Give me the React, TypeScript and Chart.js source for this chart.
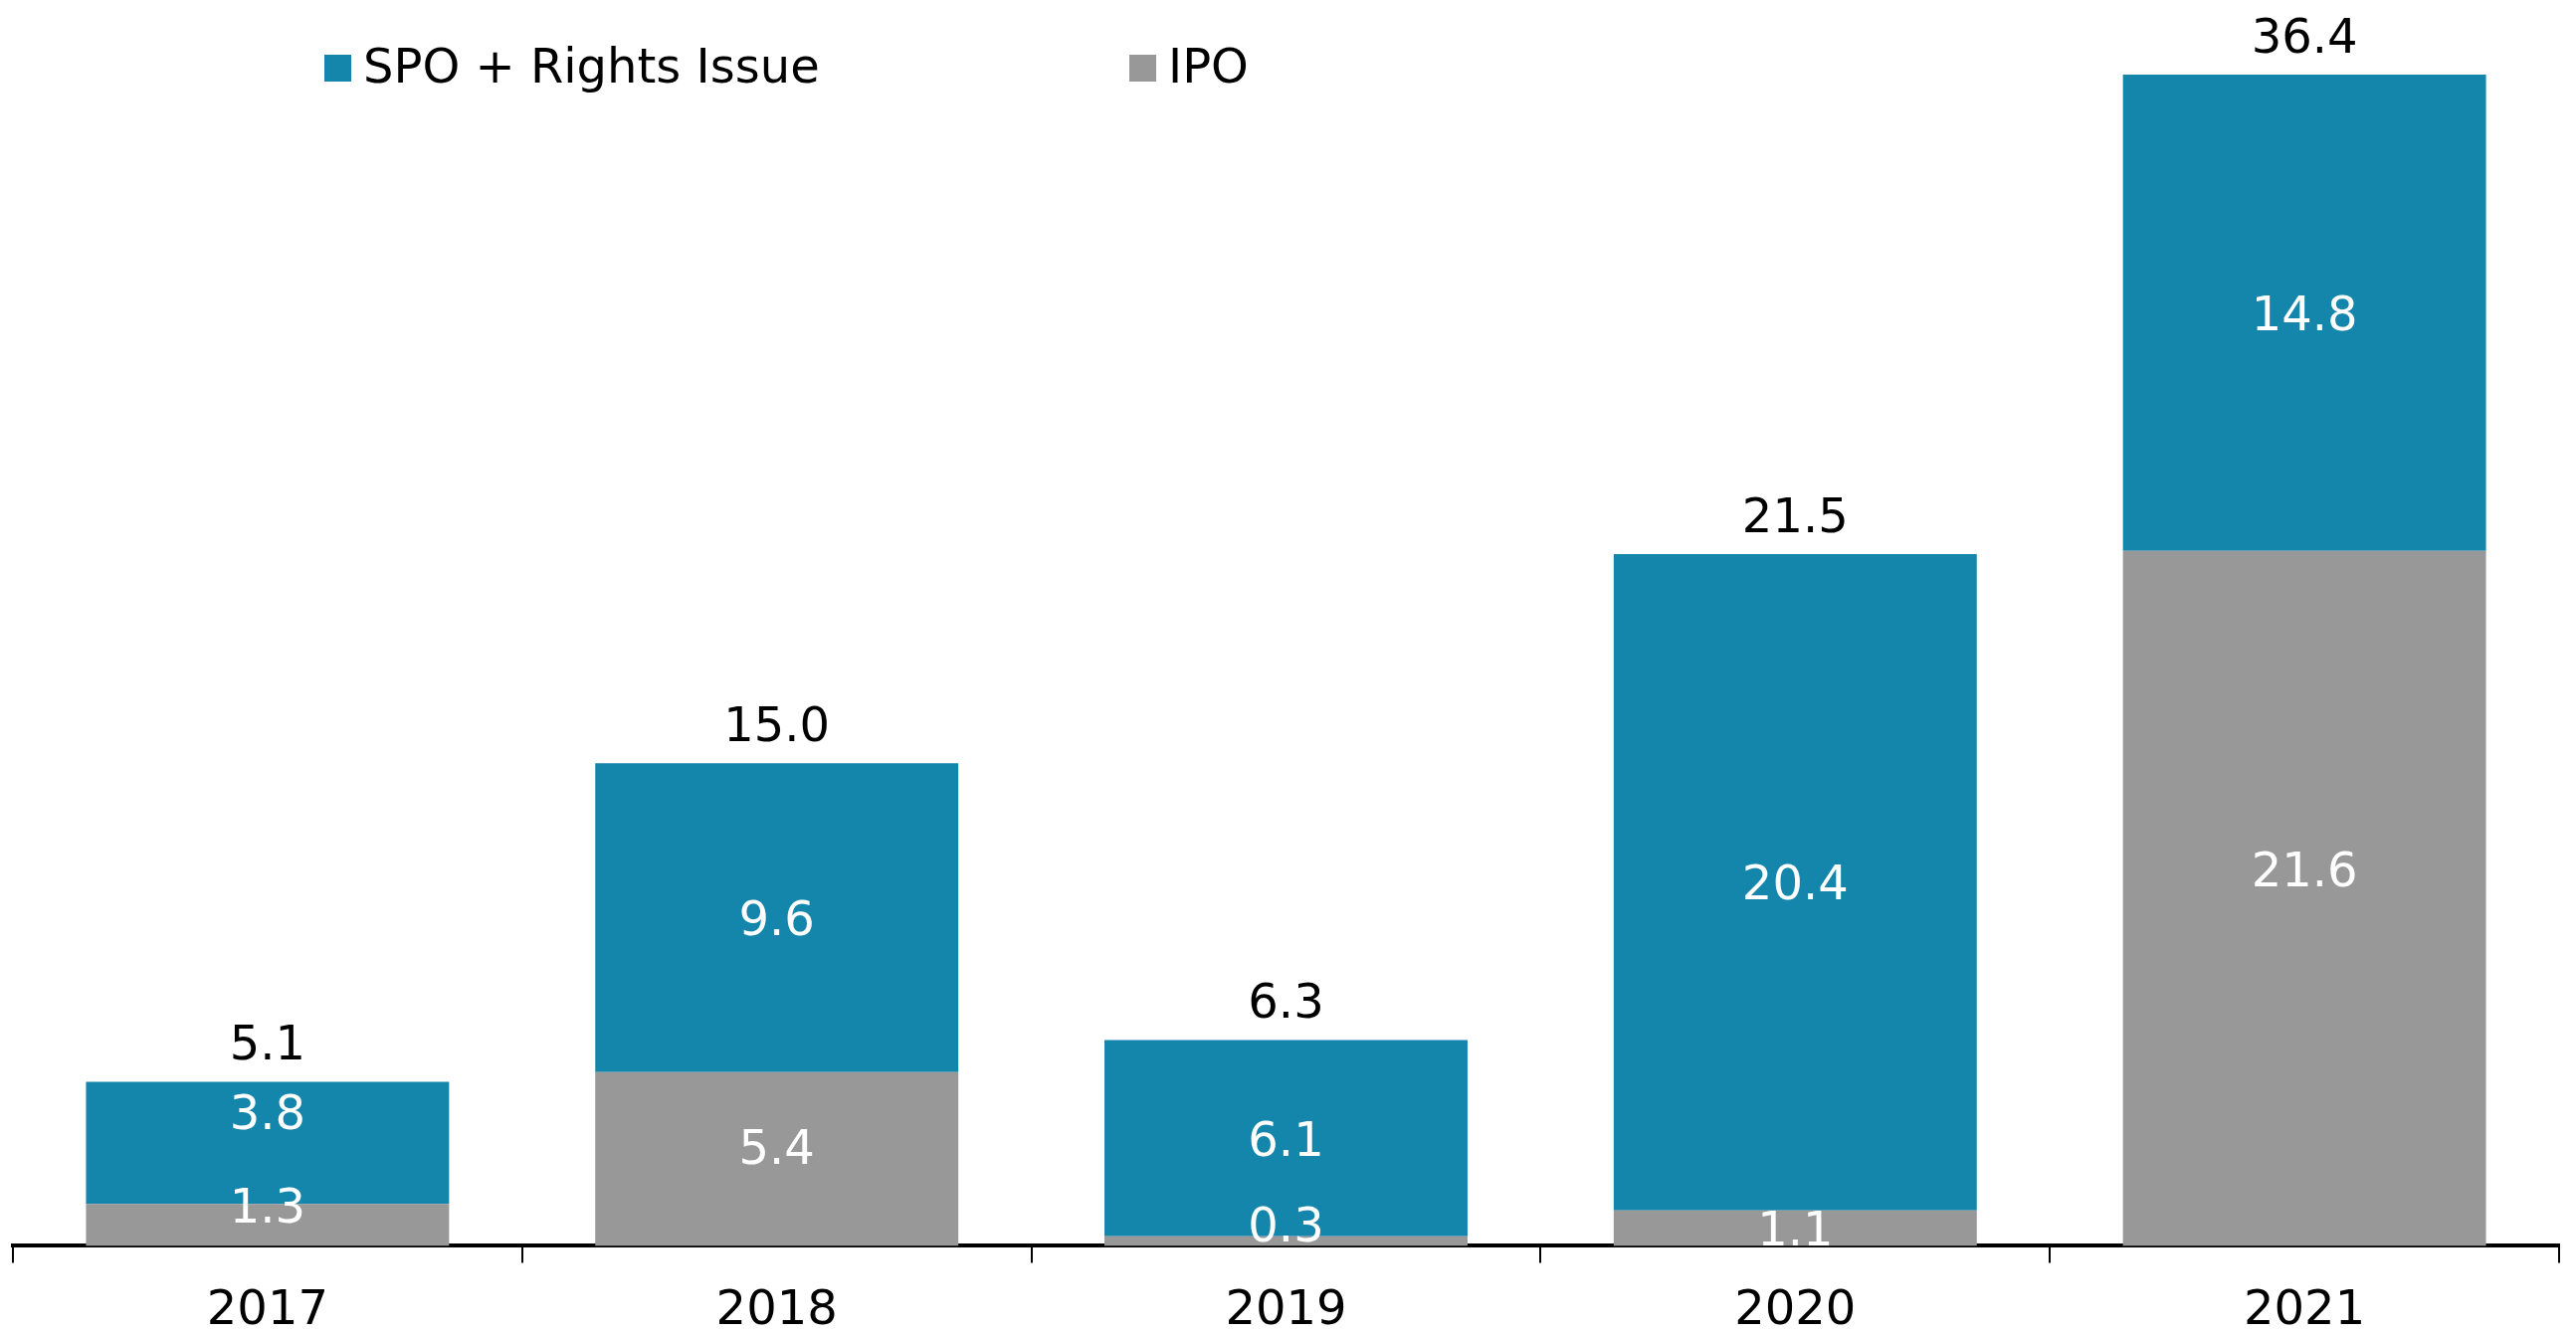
import React, { useEffect, useRef } from "react";
import { Chart, registerables } from "chart.js";

Chart.register(...registerables);

const categories = ["2017", "2018", "2019", "2020", "2021"];
const ipoValues = [1.3, 5.4, 0.3, 1.1, 21.6];
const spoValues = [3.8, 9.6, 6.1, 20.4, 14.8];
const totalLabels = ["5.1", "15.0", "6.3", "21.5", "36.4"];
const seriesNames = ["SPO + Rights Issue", "IPO"];

const TEAL = "#1485AB";
const GRAY = "#989898";
const FONT = "'DejaVu Sans', Verdana, sans-serif";
const FONT_SIZE = 48;

// small label nudges (px) where the original moved labels off-centre
const labelNudge: Record<string, number> = {
  "0-0": -20,
  "1-0": -31,
  "0-1": -13,
  "0-2": -17,
  "0-4": -30,
};

export default function App() {
  const ref = useRef<HTMLCanvasElement | null>(null);

  useEffect(() => {
    if (!ref.current) return;
    const labelPlugin = {
      id: "labels",
      afterDatasetsDraw(chart: any) {
        const ctx = chart.ctx;
        ctx.save();
        ctx.font = `${FONT_SIZE}px ${FONT}`;
        ctx.textAlign = "center";
        ctx.textBaseline = "alphabetic";
        const half = (FONT_SIZE * 0.729) / 2;
        chart.data.datasets.forEach((ds: any, di: number) => {
          const meta = chart.getDatasetMeta(di);
          meta.data.forEach((bar: any, i: number) => {
            const top = Math.min(bar.y, bar.base);
            const bottom = Math.max(bar.y, bar.base);
            const cy = (top + bottom) / 2 + (labelNudge[`${di}-${i}`] || 0);
            ctx.fillStyle = "#ffffff";
            ctx.fillText(ds.data[i].toFixed(1), bar.x, cy + half);
          });
        });
        const topMeta = chart.getDatasetMeta(chart.data.datasets.length - 1);
        topMeta.data.forEach((bar: any, i: number) => {
          ctx.fillStyle = "#000000";
          ctx.fillText(totalLabels[i], bar.x, bar.y - 22);
        });
        ctx.restore();
      },
      afterDraw(chart: any) {
        const ctx = chart.ctx;
        ctx.save();
        ctx.font = `${FONT_SIZE}px ${FONT}`;
        ctx.textAlign = "left";
        ctx.textBaseline = "alphabetic";
        const items = [
          { text: seriesNames[0], color: TEAL, x: 326 },
          { text: seriesNames[1], color: GRAY, x: 1135 },
        ];
        items.forEach((it) => {
          ctx.fillStyle = it.color;
          ctx.fillRect(it.x, 55, 27, 27);
          ctx.fillStyle = "#000000";
          ctx.fillText(it.text, it.x + 39, 83);
        });
        ctx.restore();
      },
    };

    const chart = new Chart(ref.current, {
      type: "bar",
      data: {
        labels: categories,
        datasets: [
          { label: seriesNames[1], data: ipoValues, backgroundColor: GRAY, borderWidth: 0 },
          { label: seriesNames[0], data: spoValues, backgroundColor: TEAL, borderWidth: 0 },
        ],
      },
      options: {
        animation: false,
        responsive: false,
        devicePixelRatio: 1,
        layout: { padding: { left: 13, right: 17, top: 75, bottom: -26 } },
        datasets: { bar: { categoryPercentage: 1, barPercentage: 0.713 } },
        plugins: { legend: { display: false }, tooltip: { enabled: false } },
        scales: {
          x: {
            stacked: true,
            grid: {
              offset: true,
              display: true,
              drawOnChartArea: false,
              drawTicks: true,
              tickLength: 17,
              color: "#000000",
              lineWidth: 2,
            },
            border: { display: true, color: "#000000", width: 4 },
            ticks: {
              font: { family: FONT, size: FONT_SIZE },
              color: "#000000",
              padding: 20,
              maxRotation: 0,
              autoSkip: false,
            },
          },
          y: {
            stacked: true,
            display: false,
            min: 0,
            max: 36.4,
          },
        },
      },
      plugins: [labelPlugin],
    } as any);
    return () => chart.destroy();
  }, []);

  return (
    <div style={{ position: "fixed", left: 0, top: 0, width: 2589, height: 1341, background: "#fff" }}>
      <canvas ref={ref} width={2589} height={1341} style={{ width: 2589, height: 1341, display: "block" }} />
    </div>
  );
}
